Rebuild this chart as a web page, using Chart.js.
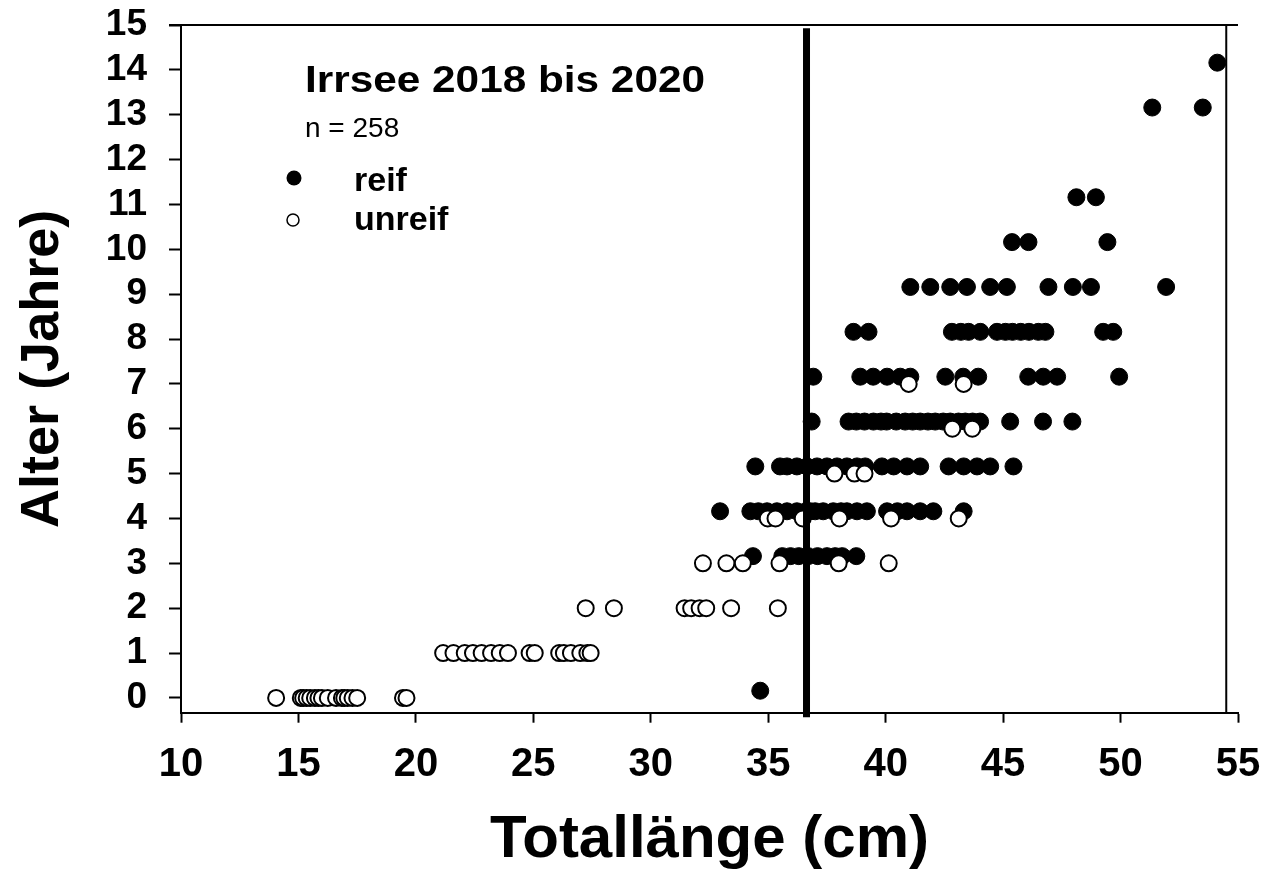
<!DOCTYPE html>
<html>
<head>
<meta charset="utf-8">
<script src="https://cdn.jsdelivr.net/npm/chart.js@4.4.1/dist/chart.umd.min.js"></script>
<style>
  html, body { margin: 0; padding: 0; background: #fff; }
</style>
</head>
<body>
<canvas id="chart" width="1276" height="870"></canvas>
<script>
// Axis ticks
const xTicks = [10, 15, 20, 25, 30, 35, 40, 45, 50, 55];
const yTicks = [0, 1, 2, 3, 4, 5, 6, 7, 8, 9, 10, 11, 12, 13, 14, 15];

// reif (mature) - plotted slightly above the age line, as in the original
const reifLevels = [0.16, 3.16, 4.16, 5.16, 6.16, 7.16, 8.16, 9.16, 10.16, 11.16, 13.16, 14.16];
const reifLength = [
  [34.66],
  [34.35, 35.6, 35.95, 36.3, 36.7, 37.1, 37.5, 37.85, 38.15, 38.75],
  [32.95, 34.24, 34.58, 34.95, 35.37, 35.8, 36.22, 36.6, 36.79, 37.0, 37.34, 37.77, 38.1, 38.35, 38.78, 39.2, 40.06, 40.5, 40.91, 41.47, 42.03, 43.32],
  [34.45, 35.5, 35.8, 36.22, 36.65, 37.08, 37.5, 37.93, 38.35, 38.78, 39.13, 39.84, 40.34, 40.91, 41.47, 42.68, 43.32, 43.89, 44.45, 45.44],
  [36.85, 38.42, 38.75, 39.1, 39.48, 39.8, 40.04, 40.45, 40.83, 41.15, 41.47, 41.8, 42.11, 42.45, 42.75, 43.1, 43.39, 43.7, 44.02, 45.3, 46.7, 47.95],
  [36.92, 38.92, 39.47, 40.06, 40.62, 41.05, 42.54, 43.3, 43.94, 46.07, 46.71, 47.3, 49.94],
  [38.63, 39.27, 42.82, 43.2, 43.53, 44.03, 44.74, 45.1, 45.4, 45.75, 46.1, 46.5, 46.8, 49.26, 49.69],
  [41.05, 41.9, 42.75, 43.46, 44.45, 45.16, 46.93, 47.97, 48.74, 51.94],
  [45.38, 46.08, 49.44],
  [48.12, 48.95],
  [51.35, 53.5],
  [54.12]
];

// unreif (immature)
const unreifLevels = [0, 1, 2, 3, 4, 5, 6, 7];
const unreifLength = [
  [14.05, 15.1, 15.2, 15.35, 15.5, 15.7, 15.85, 16.0, 16.25, 16.6, 16.85, 16.95, 17.1, 17.3, 17.5, 19.45, 19.6],
  [21.16, 21.6, 22.08, 22.43, 22.8, 23.2, 23.57, 23.92, 24.84, 25.06, 26.1, 26.3, 26.6, 27.0, 27.3, 27.44],
  [27.23, 28.43, 31.44, 31.72, 32.08, 32.36, 33.42, 35.41],
  [32.22, 33.22, 33.92, 35.48, 38.0, 40.13],
  [34.98, 35.31, 36.47, 38.03, 40.23, 43.11],
  [37.82, 38.67, 39.1],
  [42.84, 43.69],
  [40.98, 43.32]
];

// thick vertical line (length at maturity)
const cutX = [36.63, 36.63];
const cutY = [-0.43, 14.93];

const frameRight = 54.5;

const reifPoints = reifLevels.flatMap((y, i) => reifLength[i].map(x => ({ x: x, y: y })));
const unreifPoints = unreifLevels.flatMap((y, i) => unreifLength[i].map(x => ({ x: x, y: y })));
const cutPoints = cutX.map((x, i) => ({ x: x, y: cutY[i] }));

function fitText(ctx, text, x, baseline, font, width) {
  ctx.font = font;
  const w = ctx.measureText(text).width;
  ctx.save();
  ctx.translate(x, baseline);
  if (width) ctx.scale(width / w, 1);
  ctx.textAlign = 'left';
  ctx.textBaseline = 'alphabetic';
  ctx.fillText(text, 0, 0);
  ctx.restore();
}

// Frame lines, heading and legend
const decor = {
  id: 'decor',
  afterDatasetsDraw(chart) {
    const { ctx, chartArea, scales } = chart;
    ctx.save();
    ctx.strokeStyle = '#000';
    ctx.lineWidth = 2;
    ctx.beginPath();
    ctx.moveTo(chartArea.left - 12, chartArea.top);
    ctx.lineTo(chartArea.right, chartArea.top);
    const fx = scales.x.getPixelForValue(frameRight);
    ctx.moveTo(fx, chartArea.top);
    ctx.lineTo(fx, chartArea.bottom);
    ctx.stroke();

    ctx.fillStyle = '#000';
    fitText(ctx, 'Irrsee 2018 bis 2020', 305, 92, 'bold 36px "Liberation Sans"', 400);
    fitText(ctx, 'n = 258', 305, 137, '28px "Liberation Sans"');
    fitText(ctx, 'reif', 354, 191, 'bold 34px "Liberation Sans"');
    fitText(ctx, 'unreif', 354, 230, 'bold 34px "Liberation Sans"');

    // legend symbols
    ctx.beginPath();
    ctx.arc(294, 178, 7.5, 0, Math.PI * 2);
    ctx.fill();
    ctx.beginPath();
    ctx.arc(293, 220, 6, 0, Math.PI * 2);
    ctx.fillStyle = '#fff';
    ctx.fill();
    ctx.lineWidth = 1.5;
    ctx.stroke();
    ctx.restore();
  }
};

const tickFont = { family: 'Liberation Sans', weight: 'bold' };

new Chart(document.getElementById('chart').getContext('2d'), {
  type: 'scatter',
  data: {
    datasets: [
      {
        type: 'line',
        label: 'Grenze',
        data: cutPoints,
        borderColor: '#000',
        borderWidth: 7,
        pointRadius: 0,
        clip: false,
        order: 0
      },
      {
        label: 'unreif',
        data: unreifPoints,
        pointRadius: 8,
        pointBorderWidth: 2,
        pointBackgroundColor: '#fff',
        pointBorderColor: '#000',
        order: 1
      },
      {
        label: 'reif',
        data: reifPoints,
        pointRadius: 8.5,
        pointBorderWidth: 1,
        pointBackgroundColor: '#000',
        pointBorderColor: '#000',
        order: 2
      }
    ]
  },
  options: {
    responsive: false,
    animation: false,
    layout: { autoPadding: false, padding: { top: 25, right: 38, left: 0, bottom: 0 } },
    plugins: { legend: { display: false }, tooltip: { enabled: false } },
    scales: {
      x: {
        type: 'linear',
        min: 10,
        max: 55,
        afterBuildTicks: s => { s.ticks = xTicks.map(v => ({ value: v })); },
        afterFit: s => { s.height = 157.3; s.paddingLeft = 0; s.paddingRight = 0; },
        grid: { drawOnChartArea: false, tickLength: 10, tickWidth: 2, tickColor: '#000' },
        border: { color: '#000', width: 2 },
        ticks: { color: '#000', font: { ...tickFont, size: 40 }, padding: 18, maxRotation: 0, autoSkip: false },
        title: {
          display: true,
          text: 'Totallänge (cm)',
          color: '#000',
          font: { family: 'Liberation Sans', weight: 'bold', size: 60, lineHeight: 1 },
          padding: { top: 0, bottom: 0 }
        }
      },
      y: {
        type: 'linear',
        min: -0.33,
        max: 15,
        afterBuildTicks: s => { s.ticks = yTicks.map(v => ({ value: v })); },
        afterFit: s => { s.width = 181; s.paddingTop = 0; s.paddingBottom = 0; },
        grid: { drawOnChartArea: false, tickLength: 12, tickWidth: 2, tickColor: '#000' },
        border: { color: '#000', width: 2 },
        ticks: { color: '#000', font: { ...tickFont, size: 37 }, padding: 22, autoSkip: false },
        title: {
          display: true,
          text: 'Alter (Jahre)',
          color: '#000',
          font: { family: 'Liberation Sans', weight: 'bold', size: 54, lineHeight: 1 },
          padding: { top: 16, bottom: 0 }
        }
      }
    }
  },
  plugins: [decor]
});
</script>
</body>
</html>
